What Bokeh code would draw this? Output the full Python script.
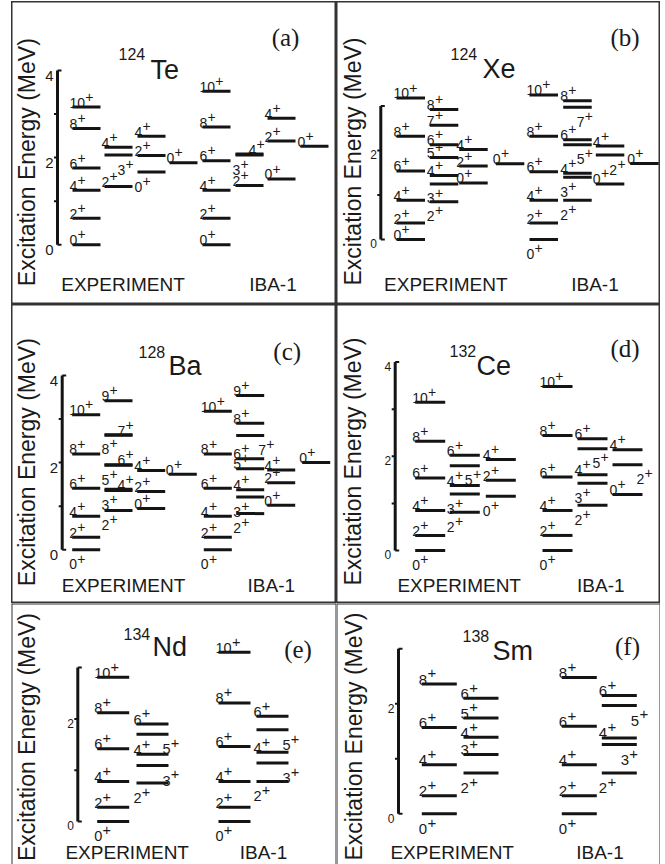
import math
from bokeh.plotting import figure
from bokeh.layouts import column, row
from bokeh.models import Range1d, ColumnDataSource, Spacer, Span
from bokeh.core.properties import value
from bokeh.embed import file_html
from bokeh.resources import INLINE

# ======================= DATA (energies in MeV) =======================
# (a) 124Te
TE124_EXP_SPIN = [0, 2, 4, 6, 8, 10, 2, 3, 4, 0, 2, 4, 0]
TE124_EXP_E = [0.00, 0.61, 1.25, 1.76, 2.67, 3.16, 1.34, 2.06, 2.24, 1.67, 2.05, 2.49, 1.88]
TE124_EXP_BAND = [0, 0, 0, 0, 0, 0, 1, 1, 1, 2, 2, 2, 3]
TE124_IBA_SPIN = [0, 2, 4, 6, 8, 10, 2, 3, 4, 0, 2, 4, 0]
TE124_IBA_E = [0.00, 0.61, 1.25, 1.93, 2.70, 3.52, 1.36, 2.06, 2.08, 1.51, 2.38, 2.90, 2.26]
TE124_IBA_BAND = [0, 0, 0, 0, 0, 0, 1, 1, 1, 2, 2, 2, 3]

# (b) 124Xe
XE124_EXP_SPIN = [0, 2, 4, 6, 8, 10, 2, 3, 4, 5, 6, 7, 8, 0, 2, 4, 0]
XE124_EXP_E = [0.00, 0.37, 0.88, 1.54, 2.32, 3.18, 0.85, 1.25, 1.44, 1.84, 2.13, 2.57, 2.92, 1.27, 1.65, 2.02, 1.70]
XE124_EXP_BAND = [0, 0, 0, 0, 0, 0, 1, 1, 1, 1, 1, 1, 1, 2, 2, 2, 3]
XE124_IBA_SPIN = [0, 2, 4, 6, 8, 10, 2, 3, 4, 5, 6, 7, 8, 0, 2, 4, 0]
XE124_IBA_E = [0.00, 0.37, 0.88, 1.52, 2.32, 3.25, 0.88, 1.40, 1.49, 2.13, 2.24, 2.97, 3.12, 1.25, 1.90, 2.10, 1.71]
XE124_IBA_BAND = [0, 0, 0, 0, 0, 0, 1, 1, 1, 1, 1, 1, 1, 2, 2, 2, 3]

# (c) 128Ba
BA128_EXP_SPIN = [0, 2, 4, 6, 8, 10, 2, 3, 4, 5, 6, 7, 8, 9, 0, 2, 4, 0]
BA128_EXP_E = [0.00, 0.29, 0.77, 1.41, 2.20, 3.10, 0.90, 1.36, 1.39, 1.94, 1.95, 2.63, 2.64, 3.42, 0.95, 1.34, 1.82, 1.73]
BA128_EXP_BAND = [0, 0, 0, 0, 0, 0, 1, 1, 1, 1, 1, 1, 1, 1, 2, 2, 2, 3]
BA128_IBA_SPIN = [0, 2, 4, 6, 8, 10, 2, 3, 4, 5, 6, 7, 8, 9, 0, 2, 4, 0]
BA128_IBA_E = [0.00, 0.29, 0.77, 1.41, 2.20, 3.18, 0.83, 1.21, 1.38, 1.86, 2.09, 2.62, 2.90, 3.54, 1.02, 1.54, 1.83, 2.00]
BA128_IBA_BAND = [0, 0, 0, 0, 0, 0, 1, 1, 1, 1, 1, 1, 1, 1, 2, 2, 2, 3]

# (d) 132Ce
CE132_EXP_SPIN = [0, 2, 4, 6, 8, 10, 2, 3, 4, 5, 6, 0, 2, 4]
CE132_EXP_E = [0.00, 0.32, 0.85, 1.54, 2.32, 3.15, 0.81, 1.20, 1.38, 1.80, 2.02, 1.15, 1.49, 1.93]
CE132_EXP_BAND = [0, 0, 0, 0, 0, 0, 1, 1, 1, 1, 1, 2, 2, 2]
CE132_IBA_SPIN = [0, 2, 4, 6, 8, 10, 2, 3, 4, 5, 6, 0, 2, 4]
CE132_IBA_E = [0.00, 0.32, 0.85, 1.56, 2.44, 3.48, 0.96, 1.43, 1.61, 2.16, 2.37, 1.19, 1.82, 2.14]
CE132_IBA_BAND = [0, 0, 0, 0, 0, 0, 1, 1, 1, 1, 1, 2, 2, 2]

# (e) 134Nd
ND134_EXP_SPIN = [0, 2, 4, 6, 8, 10, 2, 3, 4, 5, 6]
ND134_EXP_E = [0.00, 0.28, 0.78, 1.42, 2.12, 2.81, 0.75, 1.09, 1.31, 1.70, 1.90]
ND134_EXP_BAND = [0, 0, 0, 0, 0, 0, 1, 1, 1, 1, 1]
ND134_IBA_SPIN = [0, 2, 4, 6, 8, 10, 2, 3, 4, 5, 6]
ND134_IBA_E = [0.00, 0.28, 0.78, 1.46, 2.31, 3.30, 0.78, 1.14, 1.35, 1.79, 2.05]
ND134_IBA_BAND = [0, 0, 0, 0, 0, 0, 1, 1, 1, 1, 1]

# (f) 138Sm
SM138_EXP_SPIN = [0, 2, 4, 6, 8, 2, 3, 4, 5, 6]
SM138_EXP_E = [0.00, 0.33, 0.89, 1.57, 2.36, 0.74, 1.08, 1.39, 1.74, 2.10]
SM138_EXP_BAND = [0, 0, 0, 0, 0, 1, 1, 1, 1, 1]
SM138_IBA_SPIN = [0, 2, 4, 6, 8, 2, 3, 4, 5, 6]
SM138_IBA_E = [0.00, 0.33, 0.89, 1.59, 2.48, 0.74, 1.26, 1.38, 1.97, 2.15]
SM138_IBA_BAND = [0, 0, 0, 0, 0, 1, 1, 1, 1, 1]

# axis tick labels and axis tops (MeV)
TICKS = {"a": [0, 2, 4], "b": [0, 2], "c": [0, 2, 4], "d": [0, 2, 4], "e": [0, 2], "f": [0, 2]}
AXIS_TOP = {"a": 4, "b": 3, "c": 4, "d": 4, "e": 3, "f": 3}
NUCLEI = {"a": ("124", "Te"), "b": ("124", "Xe"), "c": ("128", "Ba"),
          "d": ("132", "Ce"), "e": ("134", "Nd"), "f": ("138", "Sm")}
TAGS = {"a": "(a)", "b": "(b)", "c": "(c)", "d": "(d)", "e": "(e)", "f": "(f)"}
SERIES_NAMES = ["EXPERIMENT", "IBA-1"]
Y_TITLE = "Excitation Energy (MeV)"

# ======================= STYLE / LAYOUT =======================
# label placement codes: a/b = above/below the level, l/r/x = left / right-aligned / past right end
POS = {
    "a": (["al"] * 6 + ["al", "br", "al"] + ["bl", "al", "al"] + ["al"],
          ["al"] * 6 + ["al", "bl", "ar"] + ["al", "al", "al"] + ["al"]),
    "b": (["al"] * 6 + ["bl", "bl", "al", "al", "al", "al", "al"] + ["al", "al", "al"] + ["al"],
          ["bl"] + ["al"] * 5 + ["bl", "bl", "al", "br", "al", "br", "al"] + ["al", "br", "al"] + ["al"]),
    "c": (["bl"] + ["al"] * 5 + ["bl", "bl", "ar", "bl", "ar", "ar", "bl", "al"] + ["al", "al", "al"] + ["al"],
          ["bl"] + ["al"] * 5 + ["bl", "bl", "al", "al", "al", "bx", "al", "al"] + ["al", "al", "al"] + ["al"]),
    "d": (["bl"] + ["al"] * 5 + ["bl", "bl", "al", "br", "al"] + ["bl", "al", "al"],
          ["bl"] + ["al"] * 5 + ["bl", "bl", "al", "br", "al"] + ["al", "bx", "al"]),
    "e": (["bl"] + ["al"] * 5 + ["bl", "bx", "al", "bx", "al"],
          ["bl"] + ["al"] * 5 + ["bl", "bx", "al", "bx", "al"]),
    "f": (["bl"] + ["al"] * 4 + ["bl", "al", "al", "al", "al"],
          ["bl"] + ["al"] * 4 + ["bl", "br", "al", "bx", "al"]),
}

LAYOUT = {
    "a": dict(w=325, h=303, zero=243.3, scale=43.6, axis_x=46, tick_fs=15, lab_fs=14,
              exp_x=[61, 93, 126, 158], iba_x=[191, 224, 256, 289], lw=28,
              mass_xy=(107, 52), elem_xy=(139, 68), tag_xy=(274, 35.5),
              name_x=(111.5, 261.5), name_y=283, ylab=(15.5, 160.7)),
    "b": dict(w=324, h=303, zero=238, scale=44.5, axis_x=44.3, tick_fs=12, lab_fs=14,
              exp_x=[60, 93.3, 122.7, 159.3], iba_x=[193, 226.7, 259.3, 293.7], lw=28.5,
              mass_xy=(114, 52.3), elem_xy=(146, 67.3), tag_xy=(288.5, 36.3),
              name_x=(109.3, 258.5), name_y=282.5, ylab=(16.2, 160)),
    "c": dict(w=325, h=299, zero=245.3, scale=43.6, axis_x=50.7, tick_fs=15, lab_fs=14,
              exp_x=[60.7, 93, 125.7, 157.3], iba_x=[192.3, 224.7, 255.7, 290.7], lw=28,
              mass_xy=(127, 47.7), elem_xy=(157, 61), tag_xy=(275.7, 46.6),
              name_x=(112, 259.8), name_y=281, ylab=(15.5, 157.7)),
    "d": dict(w=324, h=299, zero=246, scale=47.1, axis_x=58.7, tick_fs=12, lab_fs=14,
              exp_x=[78.7, 113.3, 149.3], iba_x=[206, 241, 276], lw=30,
              mass_xy=(113, 46), elem_xy=(140, 61), tag_xy=(288.5, 44.3),
              name_x=(122.7, 264.3), name_y=281, ylab=(16.2, 157)),
    "e": dict(w=325, h=261, zero=218, scale=51.3, axis_x=66.3, tick_fs=12, lab_fs=14.5,
              exp_x=[85.7, 125], iba_x=[207, 245], lw=32,
              mass_xy=(112, 30.3), elem_xy=(141, 43.7), tag_xy=(286.5, 46),
              name_x=(115.7, 252), name_y=248.7, ylab=(15.5, 133.5)),
    "f": dict(w=324, h=261, zero=210.3, scale=55, axis_x=62, tick_fs=12, lab_fs=15,
              exp_x=[85.3, 127], iba_x=[225.3, 265.3], lw=35,
              mass_xy=(126, 32), elem_xy=(156, 47.7), tag_xy=(291, 42.6),
              name_x=(115.7, 263.5), name_y=248.7, ylab=(17.8, 133)),
}

SERIES = {
    "a": ((TE124_EXP_SPIN, TE124_EXP_E, TE124_EXP_BAND), (TE124_IBA_SPIN, TE124_IBA_E, TE124_IBA_BAND)),
    "b": ((XE124_EXP_SPIN, XE124_EXP_E, XE124_EXP_BAND), (XE124_IBA_SPIN, XE124_IBA_E, XE124_IBA_BAND)),
    "c": ((BA128_EXP_SPIN, BA128_EXP_E, BA128_EXP_BAND), (BA128_IBA_SPIN, BA128_IBA_E, BA128_IBA_BAND)),
    "d": ((CE132_EXP_SPIN, CE132_EXP_E, CE132_EXP_BAND), (CE132_IBA_SPIN, CE132_IBA_E, CE132_IBA_BAND)),
    "e": ((ND134_EXP_SPIN, ND134_EXP_E, ND134_EXP_BAND), (ND134_IBA_SPIN, ND134_IBA_E, ND134_IBA_BAND)),
    "f": ((SM138_EXP_SPIN, SM138_EXP_E, SM138_EXP_BAND), (SM138_IBA_SPIN, SM138_IBA_E, SM138_IBA_BAND)),
}

INK = "#141414"
TXT = "#1a1a1a"
FRAME = "#333333"
SANS = value("Liberation Sans")
SERIF = value("Liberation Serif")


def build_panel(key, bottom_row=False):
    L = LAYOUT[key]
    w, h, zero, s = L["w"], L["h"], L["zero"], L["scale"]

    def Y(cy):  # canvas pixel row -> MeV
        return (zero - cy) / s

    p = figure(width=w, height=h, x_range=Range1d(0, w), y_range=Range1d(Y(h), Y(0)),
               x_axis_location=None, y_axis_location=None, toolbar_location=None,
               min_border=0, output_backend="svg", background_fill_color="white",
               border_fill_color="white")
    p.grid.visible = False
    if bottom_row:
        p.outline_line_color = None
        for loc, dim in ((0, "height"), (w, "height"), (Y(0), "width")):
            p.add_layout(Span(location=loc, dimension=dim, line_color=FRAME, line_width=2))
    else:
        p.outline_line_color = FRAME
        p.outline_line_width = 2
        p.outline_line_alpha = 1.0

    # --- energy axis ---
    ax = L["axis_x"]
    top = AXIS_TOP[key]
    p.segment(x0=[ax], y0=[0], x1=[ax], y1=[top], line_color=INK, line_width=3)
    tx0, tx1, ty = [], [], []
    for t in range(0, top + 1):
        if t == 0 or t == top:
            tx0.append(ax); tx1.append(ax + 4)
        else:
            tx0.append(ax - 3.5); tx1.append(ax)
        ty.append(t)
    p.segment(x0=tx0, y0=ty, x1=tx1, y1=ty, line_color=INK, line_width=2)
    tfs = L["tick_fs"]
    p.text(x=[ax - 4] * len(TICKS[key]), y=[t - 0.36 * tfs / s for t in TICKS[key]],
           text=[str(t) for t in TICKS[key]], text_font=SANS, text_font_size=value(f"{tfs}px"),
           text_align="right", text_baseline="alphabetic", text_color=TXT)

    # --- levels ---
    fs = L["lab_fs"]
    lw = L["lw"]
    nx, ny, nt, px_, py_ = [], [], [], [], []
    for (spins, energies, bands), xpos, codes in zip(SERIES[key], (L["exp_x"], L["iba_x"]), POS[key]):
        x0 = [xpos[b] for b in bands]
        x1 = [x + lw for x in x0]
        src = ColumnDataSource(dict(x0=x0, x1=x1, e=energies))
        p.segment(x0="x0", y0="e", x1="x1", y1="e", source=src, line_color=INK, line_width=3,
                  line_cap="butt")
        for spin, e, a, b, code in zip(spins, energies, x0, x1, codes):
            txt = str(spin)
            wn = len(txt) * 0.556 * fs
            wp = 0.584 * fs
            if code[0] == "a":
                yb = e + 4.5 / s
            else:
                yb = e - (4.5 + 0.72 * fs) / s
            if code[1] == "l":
                xs = a - 3
            elif code[1] == "r":
                xs = b + 1 - wn - wp
            else:
                xs = b - 6
            nx.append(xs); ny.append(yb); nt.append(txt)
            px_.append(xs + wn + 0.3); py_.append(yb + 0.42 * fs / s)
    p.text(x=nx, y=ny, text=nt, text_font=SANS, text_font_size=value(f"{fs}px"),
           text_align="left", text_baseline="alphabetic", text_color=TXT)
    p.text(x=px_, y=py_, text=["+"] * len(px_), text_font=SANS, text_font_size=value(f"{fs}px"),
           text_align="left", text_baseline="alphabetic", text_color=TXT)

    # --- titles ---
    mass, elem = NUCLEI[key]
    p.text(x=[L["mass_xy"][0]], y=[Y(L["mass_xy"][1])], text=[mass], text_font=SANS,
           text_font_size=value("16px"), text_align="left", text_baseline="alphabetic", text_color=TXT)
    p.text(x=[L["elem_xy"][0]], y=[Y(L["elem_xy"][1])], text=[elem], text_font=SANS,
           text_font_size=value("27px"), text_align="left", text_baseline="alphabetic", text_color=TXT)
    p.text(x=[L["tag_xy"][0]], y=[Y(L["tag_xy"][1])], text=[TAGS[key]], text_font=SERIF,
           text_font_size=value("25px"), text_align="center", text_baseline="alphabetic", text_color=TXT)
    p.text(x=list(L["name_x"]), y=[Y(L["name_y"])] * 2, text=SERIES_NAMES, text_font=SANS,
           text_font_size=value("19px"), text_align="center", text_baseline="alphabetic", text_color=TXT)
    p.text(x=[L["ylab"][0]], y=[Y(L["ylab"][1])], text=[Y_TITLE], angle=math.pi / 2,
           text_font=SANS, text_font_size=value("23px"), text_align="center",
           text_baseline="middle", text_color=TXT)
    return p


pa = build_panel("a")
pb = build_panel("b")
pc = build_panel("c")
pd = build_panel("d")
pe = build_panel("e", bottom_row=True)
pf = build_panel("f", bottom_row=True)

grid = column(row(pa, pb), row(pc, pd), row(pe, pf))
layout = column(Spacer(width=665, height=1), row(Spacer(width=11, height=863), grid))

html = file_html(layout, INLINE, title="IBA-1 level schemes")
html = html.replace("<head>", "<head><style>html,body{margin:0;padding:0;background:#fff;}</style>", 1)
open("out.html", "w").write(html)
